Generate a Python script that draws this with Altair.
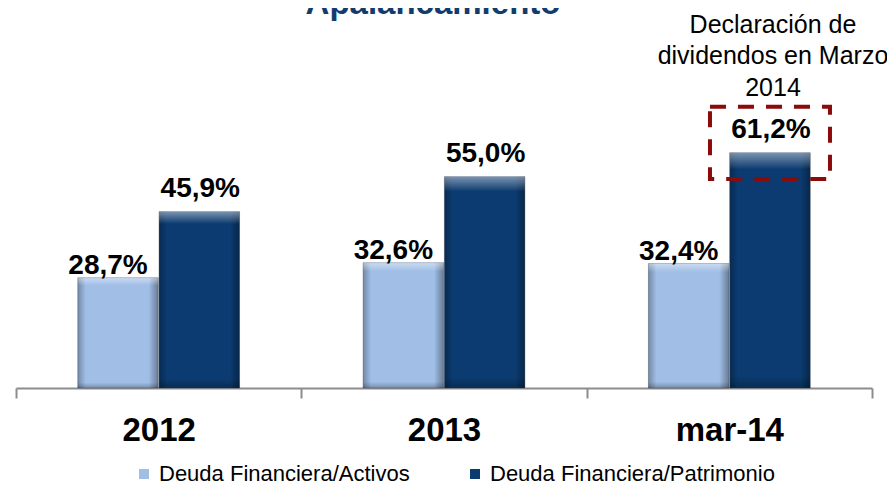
import altair as alt
import pandas as pd

categories = ["2012", "2013", "mar-14"]
series = ["Deuda Financiera/Activos", "Deuda Financiera/Patrimonio"]
activos = [28.7, 32.6, 32.4]
patrimonio = [45.9, 55.0, 61.2]
series_colors = ["#A0BEE6", "#0B3B70"]

highlight_category = "mar-14"
highlight_range = [54.4, 73.2]
note_text = "Declaración de\ndividendos en Marzo\n2014"
title_text = "Apalancamiento"

FONT = "Liberation Sans, Arial, sans-serif"

rows = []
for c, a, p in zip(categories, activos, patrimonio):
    rows.append({"cat": c, "series": series[0], "value": a})
    rows.append({"cat": c, "series": series[1], "value": p})
df = pd.DataFrame(rows)
df["label"] = df["value"].map(lambda v: f"{v:.1f}".replace(".", ",") + "%")

hl = pd.DataFrame([{"cat": highlight_category, "series": series[1],
                    "lo": highlight_range[0], "hi": highlight_range[1],
                    "note": note_text}])
title_df = pd.DataFrame([{"title": title_text}])

x_enc = alt.X("cat:N", sort=categories,
              scale=alt.Scale(domain=categories, paddingInner=0, paddingOuter=0),
              axis=alt.Axis(title=None, labelAngle=0, tickBand="extent",
                            labelFont=FONT, labelFontSize=33, labelFontWeight="bold",
                            labelColor="#000000", labelPadding=16,
                            domainColor="#8C8C8C", domainWidth=2,
                            tickColor="#8C8C8C", tickWidth=2, tickSize=10))
xo_enc = alt.XOffset("series:N", sort=series,
                     scale=alt.Scale(domain=series, paddingInner=0.01, paddingOuter=0.76))
y_scale = alt.Scale(domain=[0, 95], nice=False)

base = alt.Chart(df)

bars = base.mark_bar(stroke="#3b4a5e", strokeWidth=0.8, strokeOpacity=0.5).encode(
    x=x_enc,
    xOffset=xo_enc,
    y=alt.Y("value:Q", scale=y_scale, axis=None),
    color=alt.Color("series:N", sort=series,
                    scale=alt.Scale(domain=series, range=series_colors),
                    legend=alt.Legend(orient="none", legendX=117, legendY=440,
                                      direction="horizontal", title=None,
                                      symbolType="square", symbolSize=100,
                                      symbolStrokeWidth=0, labelLimit=0,
                                      labelFont=FONT, labelFontSize=22,
                                      labelColor="#000000", labelOffset=4,
                                      columnPadding=54)),
)

shade = base.mark_bar(
    fill=alt.LinearGradient(
        gradient="linear", x1=0, x2=1, y1=0, y2=0,
        stops=[alt.GradientStop(offset=0, color="rgba(0,0,0,0.28)"),
               alt.GradientStop(offset=0.1, color="rgba(0,0,0,0.0)"),
               alt.GradientStop(offset=0.88, color="rgba(0,0,0,0.0)"),
               alt.GradientStop(offset=1, color="rgba(0,0,0,0.35)")])
).encode(x=x_enc, xOffset=xo_enc, y=alt.Y("value:Q", scale=y_scale))

top_light = base.mark_bar(
    fill=alt.LinearGradient(
        gradient="linear", x1=0, x2=0, y1=0, y2=1,
        stops=[alt.GradientStop(offset=0, color="rgba(255,255,255,0.45)"),
               alt.GradientStop(offset=0.07, color="rgba(255,255,255,0.0)"),
               alt.GradientStop(offset=0.95, color="rgba(0,0,0,0.0)"),
               alt.GradientStop(offset=1, color="rgba(0,0,0,0.25)")])
).encode(x=x_enc, xOffset=xo_enc, y=alt.Y("value:Q", scale=y_scale))

lab_light = base.transform_filter(alt.datum.series == series[0]).mark_text(
    font=FONT, fontSize=28, fontWeight="bold", color="#000000",
    baseline="alphabetic", dx=-10, dy=-4
).encode(x=x_enc, xOffset=xo_enc, y=alt.Y("value:Q", scale=y_scale), text="label:N")

lab_dark = base.transform_filter(alt.datum.series == series[1]).mark_text(
    font=FONT, fontSize=28, fontWeight="bold", color="#000000",
    baseline="alphabetic", dx=1, dy=-15
).encode(x=x_enc, xOffset=xo_enc, y=alt.Y("value:Q", scale=y_scale), text="label:N")

box = alt.Chart(hl).mark_bar(
    width=120, fillOpacity=0, stroke="#8B0A0A", strokeWidth=4, strokeDash=[16, 12]
).encode(x=x_enc, xOffset=xo_enc,
         y=alt.Y("lo:Q", scale=y_scale), y2="hi:Q")

note = alt.Chart(hl).mark_text(
    font=FONT, fontSize=25, color="#000000", baseline="alphabetic",
    lineBreak="\n", lineHeight=31.5, dx=3, dy=-74
).encode(x=x_enc, xOffset=xo_enc, y=alt.Y("hi:Q", scale=y_scale), text="note:N")

title = alt.Chart(title_df).mark_text(
    font=FONT, fontSize=33, fontWeight="bold", color="#133C6E",
    baseline="alphabetic", align="center"
).encode(x=alt.value(417), y=alt.value(-9), text="title:N")

chart = alt.layer(bars, shade, top_light, lab_light, lab_dark, box, note, title).properties(
    width=856, height=365,
    autosize=alt.AutoSizeParams(type="none"),
    padding={"left": 8, "top": 15, "right": 15, "bottom": 100},
).configure_view(stroke=None)

chart.save("out.html", embed_options={"renderer": "svg", "actions": False})
